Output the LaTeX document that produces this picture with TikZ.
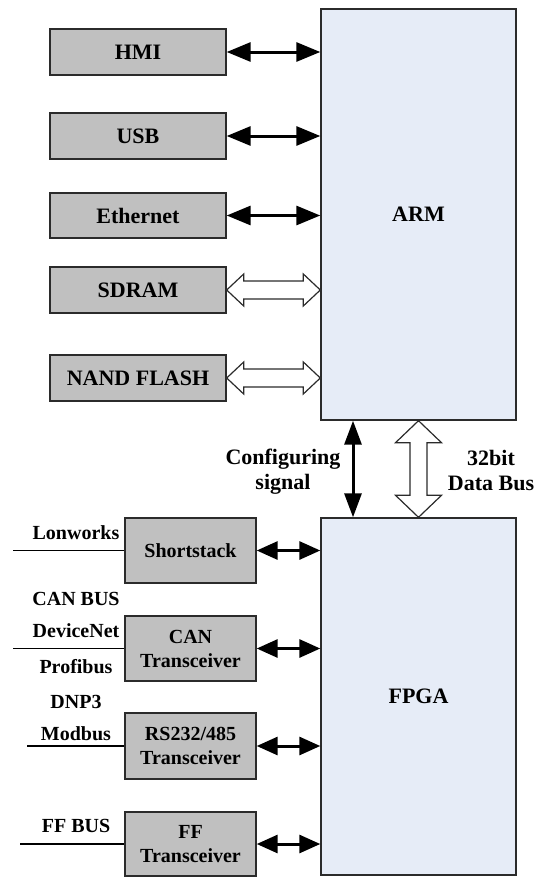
\documentclass[tikz,border=0pt]{standalone}
\usepackage{fontspec}
\setmainfont{Liberation Serif}
\usetikzlibrary{arrows.meta,calc}

\definecolor{devgray}{HTML}{C0C0C0}
\definecolor{chipblue}{HTML}{E6ECF7}
\definecolor{edge}{HTML}{2B2B2B}

% wide hollow buses: left to right, and top to bottom
\newcommand{\hbus}[2]{%
  \draw[hollow] let \p1=(#1), \p2=(#2) in
    (\x1,\y1) -- (\x1+17pt,\y1+16pt) -- (\x1+17pt,\y1+9pt) -- (\x2-17pt,\y1+9pt)
    -- (\x2-17pt,\y1+16pt) -- (\x2,\y1) -- (\x2-17pt,\y1-16pt) -- (\x2-17pt,\y1-9pt)
    -- (\x1+17pt,\y1-9pt) -- (\x1+17pt,\y1-16pt) -- cycle;}
\newcommand{\vbus}[2]{%
  \draw[hollow] let \p1=(#1), \p2=(#2) in
    (\x1,\y1) -- (\x1+23pt,\y1-22pt) -- (\x1+8.5pt,\y1-22pt) -- (\x1+8.5pt,\y2+22pt)
    -- (\x1+23pt,\y2+22pt) -- (\x1,\y2) -- (\x1-23pt,\y2+22pt) -- (\x1-8.5pt,\y2+22pt)
    -- (\x1-8.5pt,\y1-22pt) -- (\x1-23pt,\y1-22pt) -- cycle;}

\begin{document}
\begin{tikzpicture}[x=1pt, y=-1pt,
  every node/.style={font=\bfseries\fontsize{22}{25}\selectfont, inner sep=0pt},
  chip/.style={draw=edge, line width=1.4pt, fill=chipblue, minimum width=195pt},
  dev/.style={draw=edge, line width=1.4pt, fill=devgray, minimum width=176pt, minimum height=46pt},
  xcvr/.style={dev, minimum width=131pt, minimum height=65pt, align=center,
    font=\bfseries\fontsize{20}{24}\selectfont},
  buslabel/.style={anchor=base, font=\bfseries\fontsize{20}{24}\selectfont},
  link/.style={line width=3pt, {Triangle[length=24pt,width=19pt]}-{Triangle[length=24pt,width=19pt]}},
  shortlink/.style={line width=3pt, {Triangle[length=21pt,width=18pt]}-{Triangle[length=21pt,width=18pt]}},
  cfglink/.style={line width=3pt, {Triangle[length=24pt,width=17pt]}-{Triangle[length=24pt,width=17pt]}},
  hollow/.style={draw=edge, line width=1.2pt, fill=white, line join=miter},
  wire/.style={line width=1.5pt}]

  \useasboundingbox (0,0) rectangle (536,878);

  % processors
  \node[chip, minimum height=411pt] (arm) at (418.5,214.5) {ARM};
  \node[chip, minimum height=357pt] (fpga) at (418.5,696.5) {FPGA};

  % ARM side
  \node[dev] (hmi) at (138,52) {HMI};
  \node[dev] (usb) at (138,136) {USB};
  \node[dev, minimum height=45pt] (eth) at (138,215.5) {Ethernet};
  \node[dev] (sdram) at (138,290) {SDRAM};
  \node[dev] (nand) at (138,378) {NAND FLASH};

  \draw[link] (hmi.east) -- (arm.west|-hmi.east);
  \draw[link] (usb.east) -- (arm.west|-usb.east);
  \draw[link] (eth.east) -- (arm.west|-eth.east);
  \hbus{sdram.east}{arm.west|-sdram.east}
  \hbus{nand.east}{arm.west|-nand.east}

  % between ARM and FPGA
  \coordinate (cfgx) at (353,0);
  \draw[cfglink] (cfgx|-arm.south) -- (cfgx|-fpga.north);
  \vbus{arm.south}{fpga.north}
  \node[align=center] (cfg) at (283,472) {Configuring\\signal};
  \node[align=center] (dbus) at (491,470) {32bit\\Data Bus};

  % FPGA side
  \node[xcvr] (short) at (190.5,550.5) {Shortstack};
  \node[xcvr] (can) at (190.5,648.5) {CAN\\Transceiver};
  \node[xcvr, minimum height=66pt] (rs) at (190.5,746) {RS232/485\\Transceiver};
  \node[xcvr, minimum height=64pt] (ff) at (190.5,844) {FF\\Transceiver};

  \foreach \dev in {short,can,rs,ff}
    \draw[shortlink] (\dev.east) -- (fpga.west|-\dev.east);

  \coordinate (lonw) at (13,0);
  \coordinate (canw) at (13,0);
  \coordinate (rsw) at (27,0);
  \coordinate (ffw) at (20,0);
  \draw[wire] (lonw|-short.west) -- (short.west);
  \draw[wire] (canw|-can.west) -- (can.west);
  \draw[wire] (rsw|-rs.west) -- (rs.west);
  \draw[wire] (ffw|-ff.west) -- (ff.west);

  \node[buslabel] (lon) at (76,539) {Lonworks};
  \node[buslabel] (canbus) at (76,605) {CAN BUS};
  \node[buslabel] (dnet) at (76,637) {DeviceNet};
  \node[buslabel] (pbus) at (76,673) {Profibus};
  \node[buslabel] (dnp) at (76,708) {DNP3};
  \node[buslabel] (mbus) at (76,740) {Modbus};
  \node[buslabel] (ffbus) at (76,832) {FF BUS};
\end{tikzpicture}
\end{document}
